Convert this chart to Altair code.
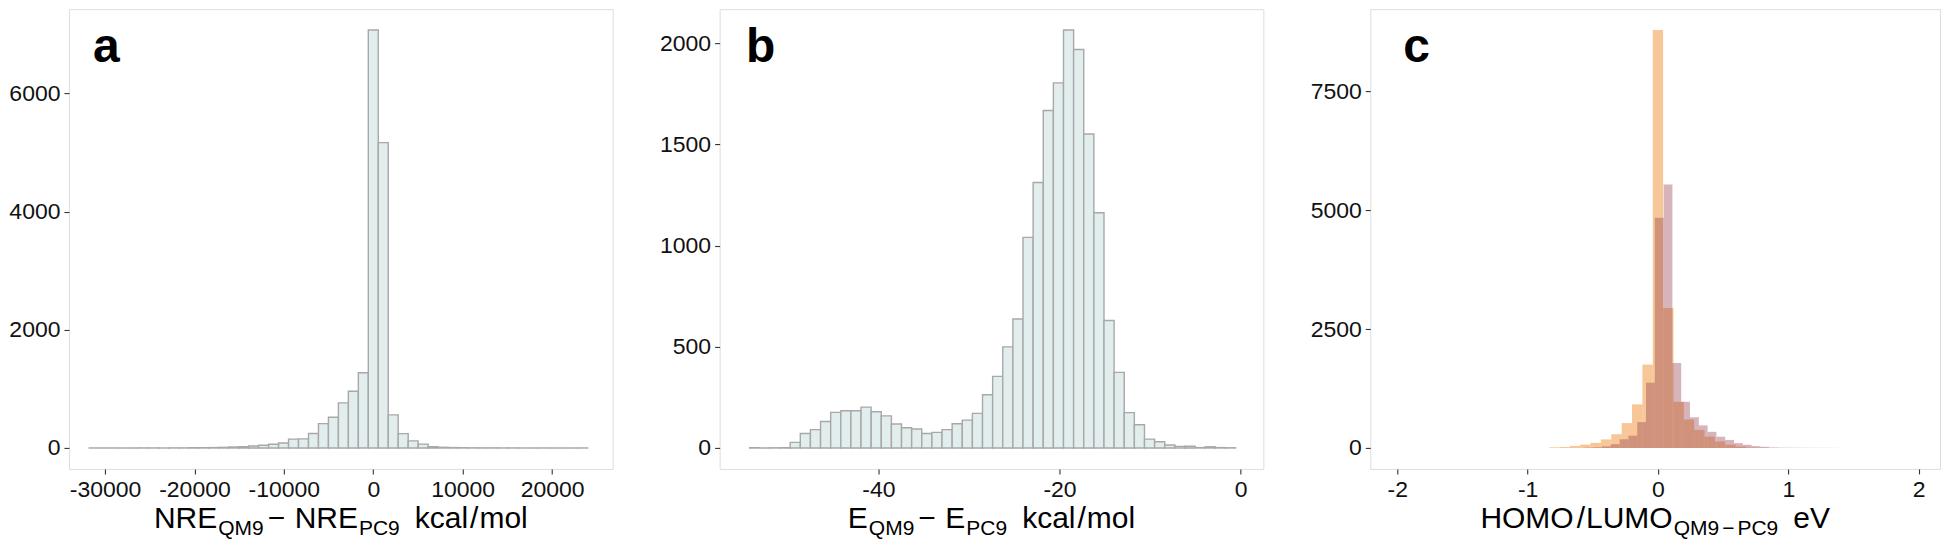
import altair as alt
import pandas as pd

FONT = "Liberation Sans"

# ---------------- data ----------------
# Panel a: NRE_QM9 - NRE_PC9 (kcal/mol), histogram bins
a_first_edge = -31777.5
a_bin_width = 1115.0
a_counts = [1, 0, 1, 0, 1, 1, 1, 1, 2, 2,
            3, 5, 7, 11, 17, 24, 35, 46, 63, 84,
            150, 155, 245, 412, 520, 763, 961, 1274,
            7072, 5166, 560, 243, 120, 66, 24, 12, 7, 5,
            3, 2, 2, 1, 1, 1, 0, 1, 0, 0, 0, 1]
a_x_ticks = [-30000, -20000, -10000, 0, 10000, 20000]
a_y_ticks = [0, 2000, 4000, 6000]

# Panel b: E_QM9 - E_PC9 (kcal/mol)
b_first_edge = -54.22
b_bin_width = 1.118
b_counts = [1, 0, 1, 2, 28, 72, 91, 131, 176, 184,
            184, 202, 179, 159, 119, 100, 94, 72, 77, 91,
            120, 138, 171, 263, 354, 500, 638, 1041, 1312, 1668,
            1805, 2066, 1970, 1552, 1163, 630, 374, 175, 115, 44,
            31, 15, 8, 9, 2, 6, 2, 1]
b_x_ticks = [-40, -20, 0]
b_y_ticks = [0, 500, 1000, 1500, 2000]

# Panel c: HOMO / LUMO differences (eV), two overlaid histograms
c_homo_first_edge = -0.835
c_homo_bin_width = 0.0795
c_homo_counts = [14, 22, 43, 72, 108, 180, 290, 524, 918, 1754,
                 8790, 2944, 972, 600, 380, 240, 140, 70, 30, 10, 5]
c_lumo_first_edge = -0.564
c_lumo_bin_width = 0.0675
c_lumo_counts = [8, 15, 35, 80, 184, 258, 544, 1374, 4842, 5542,
                 1788, 972, 646, 476, 340, 238, 170, 102, 68, 40,
                 25, 12, 8, 6, 5, 4, 3, 3, 2]
c_x_ticks = [-2, -1, 0, 1, 2]
c_y_ticks = [0, 2500, 5000, 7500]

panel_letters = ["a", "b", "c"]

# ---------------- layout / style ----------------
PANEL_H = 460
A_W, B_W, C_W = 544, 544, 570
SPACING = 107
TICK_FS = 23
TITLE_FS = 30
SUB_FS = 21
SUB_DY = 7
TITLE_BASE = PANEL_H + 59

# Arial / Liberation Sans advance widths (per 1000 em)
WIDTHS = {"N": 722, "R": 722, "E": 667, "Q": 778, "M": 833, "9": 556, "P": 667,
          "C": 722, "\u2212": 584, "k": 500, "c": 500, "a": 556, "l": 222, "/": 278,
          "m": 833, "o": 556, "H": 722, "O": 778, "L": 556, "U": 722, "e": 556,
          "V": 667, " ": 278}


def text_w(s, size):
    return sum(WIDTHS.get(ch, 556) for ch in s) * size / 1000.0


def bins_frame(first, width, counts):
    lo = [first + i * width for i in range(len(counts))]
    return pd.DataFrame({"lo": lo, "hi": [v + width for v in lo],
                         "n": counts, "base": [0] * len(counts)})


def x_axis(values):
    return alt.Axis(values=values, title=None, grid=False, domain=False, ticks=True,
                    tickSize=5, tickWidth=1.1, tickColor="#333333",
                    labelFont=FONT, labelFontSize=TICK_FS, labelColor="#111111",
                    labelPadding=5, labelFlush=False, labelOverlap=False,
                    labelExpr="'' + datum.value")


def y_axis(values):
    return alt.Axis(values=values, title=None, grid=False, domain=False, ticks=True,
                    tickSize=5, tickWidth=1.1, tickColor="#333333",
                    labelFont=FONT, labelFontSize=TICK_FS, labelColor="#111111",
                    labelPadding=4, labelFlush=False, labelOverlap=False,
                    labelExpr="'' + datum.value")


def hist(df, xdom, ydom, xt, yt, **mark):
    return alt.Chart(df).mark_rect(**mark).encode(
        x=alt.X("lo:Q", scale=alt.Scale(domain=xdom, nice=False, zero=False), axis=x_axis(xt)),
        x2="hi:Q",
        y=alt.Y("n:Q", scale=alt.Scale(domain=ydom, nice=False, zero=False), axis=y_axis(yt)),
        y2="base:Q",
    )


ONE = pd.DataFrame({"d": [0]})


def letter(ch, px):
    return alt.Chart(ONE).mark_text(
        text=ch, font=FONT, fontSize=48, fontWeight="bold", align="left",
        baseline="alphabetic", color="black").encode(x=alt.value(px), y=alt.value(53))


def title_layers(segments, panel_w):
    # segments: (text, is_sub, gap_before_px)
    total = 0.0
    placed = []
    for txt, sub, gap in segments:
        size = SUB_FS if sub else TITLE_FS
        total += gap
        placed.append((txt, sub, total, size))
        total += text_w(txt, size)
    start = panel_w / 2.0 - total / 2.0
    layers = []
    for txt, sub, off, size in placed:
        layers.append(alt.Chart(ONE).mark_text(
            text=txt, font=FONT, fontSize=size, align="left", baseline="alphabetic",
            color="black").encode(
            x=alt.value(start + off),
            y=alt.value(TITLE_BASE + (SUB_DY if sub else 0))))
    return layers


BAR_STYLE = dict(fill="#E2EDED", stroke="#A8A8A8", strokeWidth=1.4)

# ---------------- panel a ----------------
a_df = bins_frame(a_first_edge, a_bin_width, a_counts)
a_hist = hist(a_df, [-34035, 26774], [-353.6, 7424.6], a_x_ticks, a_y_ticks, **BAR_STYLE)
a_title = title_layers([("NRE", False, 0), ("QM9", True, 1), ("\u2212", False, 4),
                        ("NRE", False, 9.5), ("PC9", True, 1), ("kcal", False, 15),
                        ("/", False, 2), ("mol", False, 1)], A_W)
panel_a = alt.layer(a_hist, letter(panel_letters[0], 24), *a_title).properties(
    width=A_W, height=PANEL_H)

# ---------------- panel b ----------------
b_df = bins_frame(b_first_edge, b_bin_width, b_counts)
b_hist = hist(b_df, [-57.54, 2.51], [-103.3, 2169.3], b_x_ticks, b_y_ticks, **BAR_STYLE)
b_title = title_layers([("E", False, 0), ("QM9", True, 1), ("\u2212", False, 4),
                        ("E", False, 9.5), ("PC9", True, 1), ("kcal", False, 15),
                        ("/", False, 2), ("mol", False, 1)], B_W)
panel_b = alt.layer(b_hist, letter(panel_letters[1], 26.5), *b_title).properties(
    width=B_W, height=PANEL_H)

# ---------------- panel c ----------------
homo_df = bins_frame(c_homo_first_edge, c_homo_bin_width, c_homo_counts)
lumo_df = bins_frame(c_lumo_first_edge, c_lumo_bin_width, c_lumo_counts)
c_dom = [-2.207, 2.164]
c_ydom = [-439.5, 9229.5]
c_homo = hist(homo_df, c_dom, c_ydom, c_x_ticks, c_y_ticks, fill="#ED831B", opacity=0.45)
c_lumo = hist(lumo_df, c_dom, c_ydom, c_x_ticks, c_y_ticks, fill="#984352", opacity=0.4)
c_title = title_layers([("HOMO", False, 0), ("/", False, 3), ("LUMO", False, 1),
                        ("QM9", True, 1), ("\u2212", True, 3), ("PC9", True, 3),
                        ("eV", False, 15)], C_W)
panel_c = alt.layer(c_homo, c_lumo, letter(panel_letters[2], 33), *c_title).properties(
    width=C_W, height=PANEL_H)

chart = alt.hconcat(panel_a, panel_b, panel_c, spacing=SPACING, bounds="flush").properties(
    padding={"left": 0, "top": 0, "right": 0, "bottom": 0}
).configure_view(stroke="#D6D6D6", strokeWidth=1.3).configure(
    font=FONT, background="white")

chart.save("out.html", embed_options={"renderer": "svg", "actions": False})
